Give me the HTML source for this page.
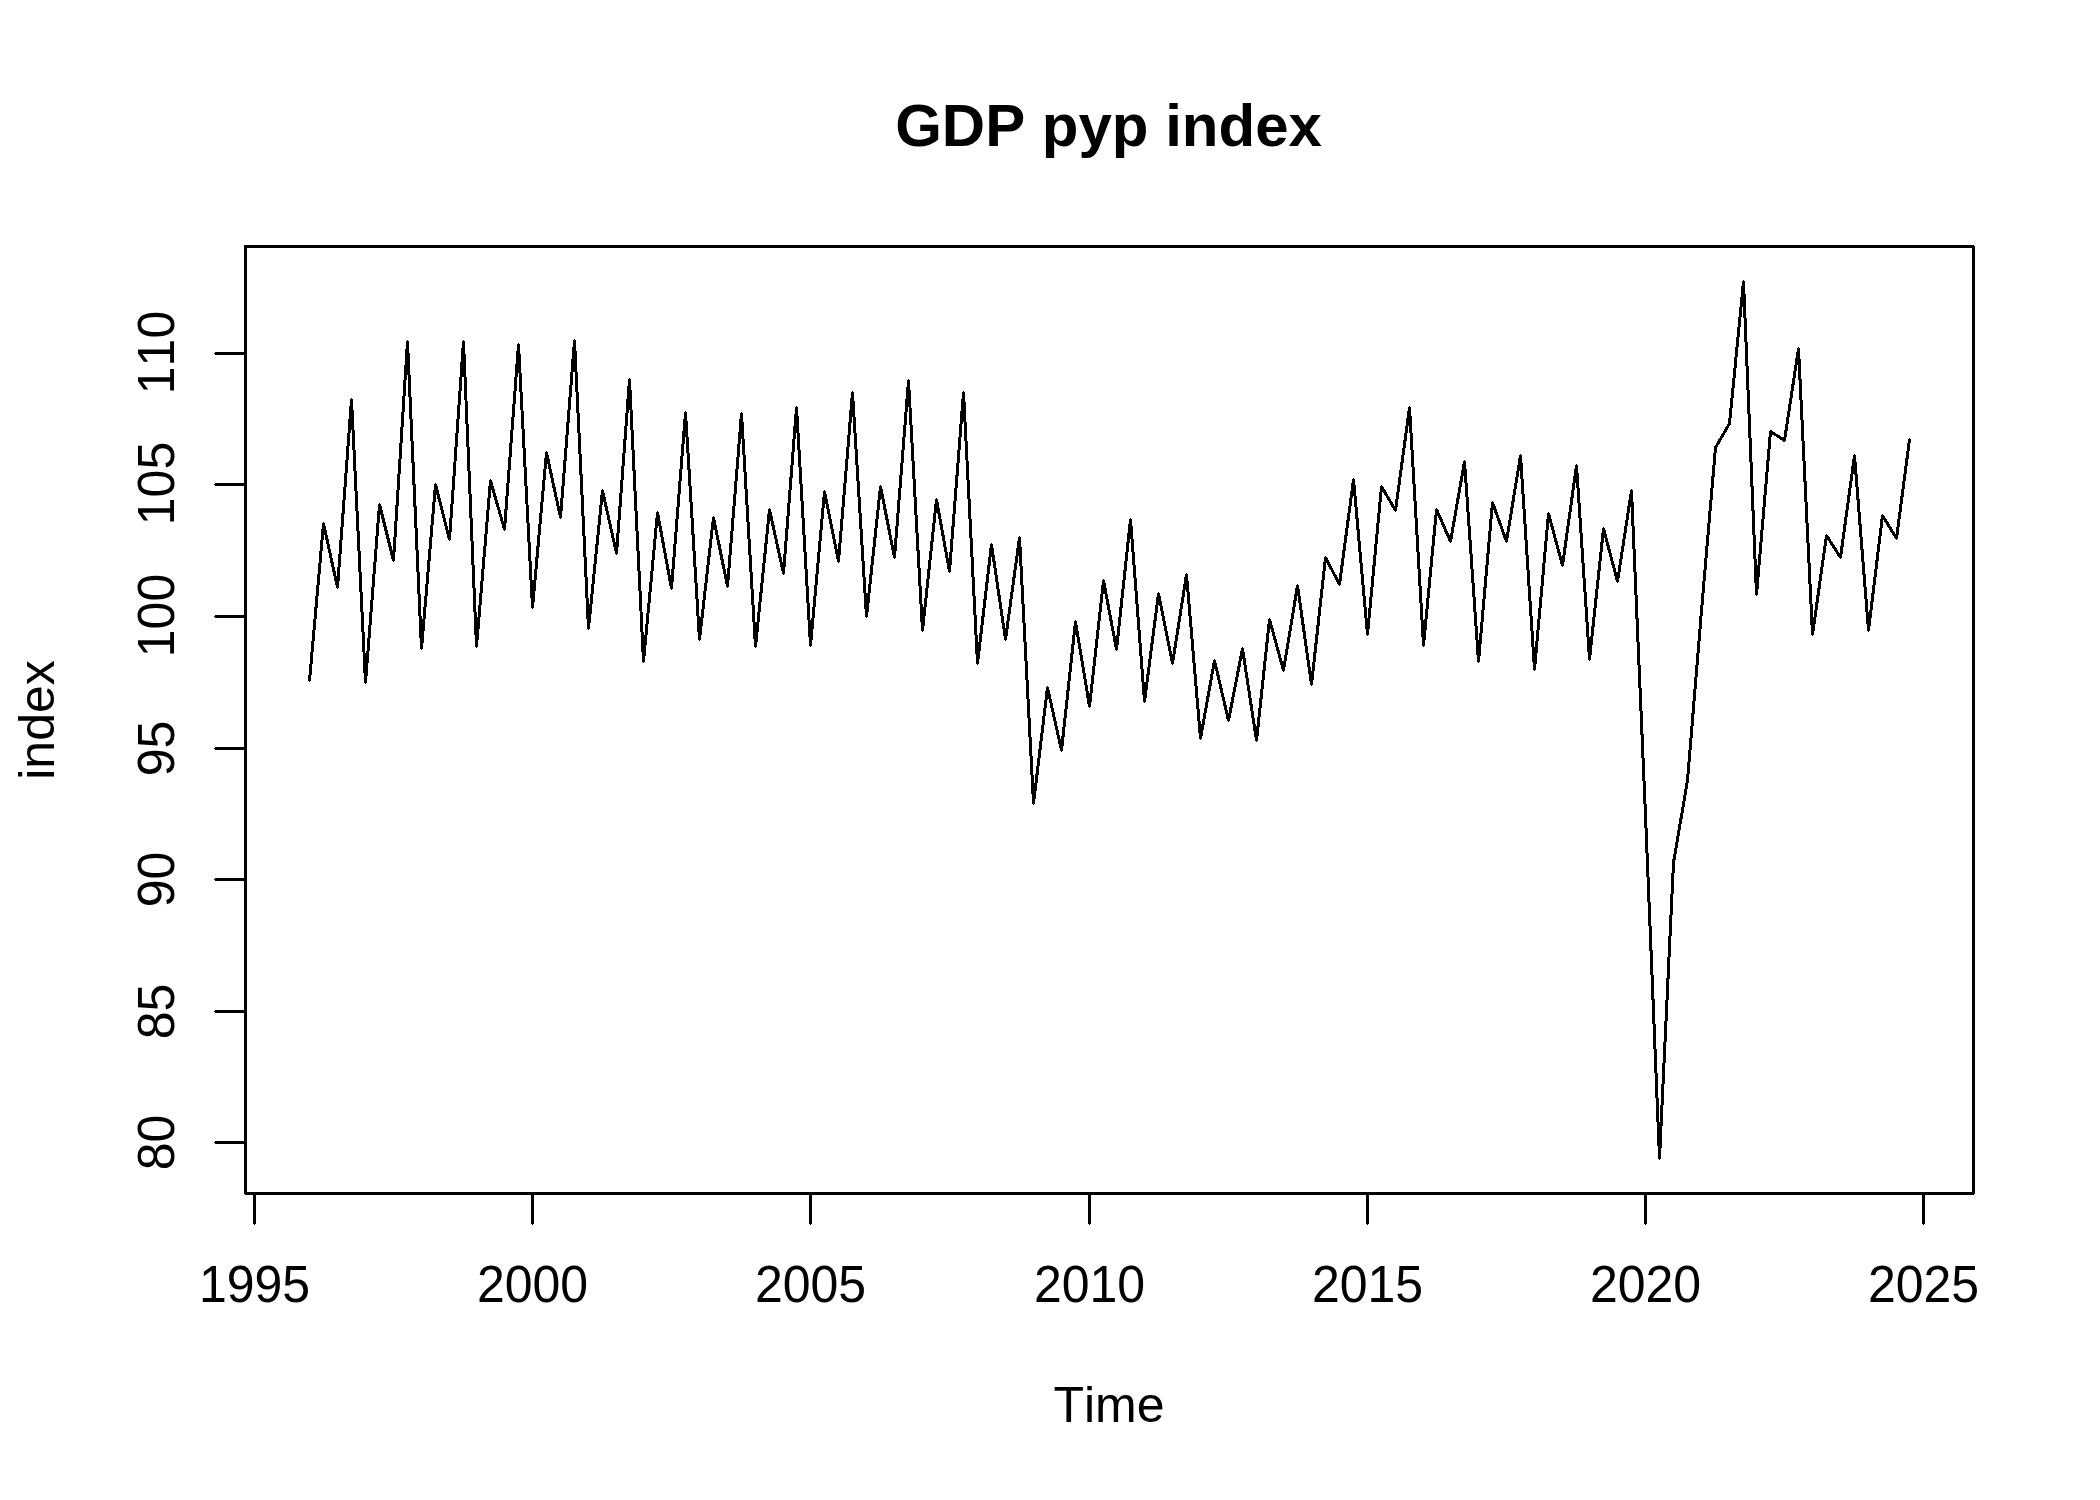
<!DOCTYPE html>
<html lang="en"><head><meta charset="utf-8"><title>GDP pyp index</title>
<style>
html,body{margin:0;padding:0;background:#fff;}
body{width:2100px;height:1500px;overflow:hidden;}
svg{display:block;}
text{font-family:'Liberation Sans', Arial, Helvetica, sans-serif;fill:#000;font-kerning:none;font-feature-settings:'kern' 0,'liga' 0;}
.ln{stroke:#000;stroke-width:3;fill:none;shape-rendering:crispEdges;}
</style></head><body>
<svg width="2100" height="1500" viewBox="0 0 2100 1500">
<rect x="0" y="0" width="2100" height="1500" fill="#fff"/>
<polyline class="ln" stroke-linejoin="bevel" stroke-linecap="butt" points="309.5,680.5 323.5,523.5 337.5,587.5 351.5,399.5 365.5,682.5 379.5,504.5 393.5,560.5 407.5,341.5 421.5,648.5 435.5,484.5 449.5,539.5 463.5,341.5 476.5,646.5 490.5,480.5 504.5,529.5 518.5,344.5 532.5,607.5 546.5,452.5 560.5,517.5 574.5,340.5 588.5,628.5 602.5,490.5 616.5,553.5 629.5,379.5 643.5,661.5 657.5,512.5 671.5,588.5 685.5,412.5 699.5,639.5 713.5,517.5 727.5,586.5 741.5,413.5 755.5,646.5 769.5,509.5 783.5,573.5 796.5,407.5 810.5,645.5 824.5,491.5 838.5,561.5 852.5,392.5 866.5,616.5 880.5,486.5 894.5,557.5 908.5,380.5 922.5,630.5 936.5,499.5 949.5,571.5 963.5,392.5 977.5,663.5 991.5,544.5 1005.5,639.5 1019.5,537.5 1033.5,803.5 1047.5,687.5 1061.5,750.5 1075.5,621.5 1089.5,706.5 1103.5,580.5 1116.5,649.5 1130.5,519.5 1144.5,701.5 1158.5,593.5 1172.5,663.5 1186.5,574.5 1200.5,738.5 1214.5,660.5 1228.5,720.5 1242.5,648.5 1256.5,740.5 1269.5,619.5 1283.5,670.5 1297.5,585.5 1311.5,684.5 1325.5,557.5 1339.5,584.5 1353.5,479.5 1367.5,634.5 1381.5,486.5 1395.5,510.5 1409.5,407.5 1423.5,645.5 1436.5,509.5 1450.5,541.5 1464.5,461.5 1478.5,661.5 1492.5,502.5 1506.5,541.5 1520.5,455.5 1534.5,669.5 1548.5,513.5 1562.5,565.5 1576.5,465.5 1589.5,659.5 1603.5,528.5 1617.5,581.5 1631.5,490.5 1645.5,815.5 1659.5,1158.5 1673.5,862.5 1687.5,780.5 1701.5,610.5 1715.5,447.5 1729.5,423.5 1743.5,281.5 1756.5,594.5 1770.5,431.5 1784.5,440.5 1798.5,348.5 1812.5,634.5 1826.5,535.5 1840.5,557.5 1854.5,455.5 1868.5,630.5 1882.5,515.5 1896.5,538.5 1909.5,439.5"/>
<path fill="#000" shape-rendering="crispEdges" d="M308 680h1v-1h1v1h1v1h-1v1h-1v-1h-1zM322 523h1v-1h1v1h1v1h-1v1h-1v-1h-1zM336 587h1v-1h1v1h1v1h-1v1h-1v-1h-1zM350 399h1v-1h1v1h1v1h-1v1h-1v-1h-1zM364 682h1v-1h1v1h1v1h-1v1h-1v-1h-1zM378 504h1v-1h1v1h1v1h-1v1h-1v-1h-1zM392 560h1v-1h1v1h1v1h-1v1h-1v-1h-1zM406 341h1v-1h1v1h1v1h-1v1h-1v-1h-1zM420 648h1v-1h1v1h1v1h-1v1h-1v-1h-1zM434 484h1v-1h1v1h1v1h-1v1h-1v-1h-1zM448 539h1v-1h1v1h1v1h-1v1h-1v-1h-1zM462 341h1v-1h1v1h1v1h-1v1h-1v-1h-1zM475 646h1v-1h1v1h1v1h-1v1h-1v-1h-1zM489 480h1v-1h1v1h1v1h-1v1h-1v-1h-1zM503 529h1v-1h1v1h1v1h-1v1h-1v-1h-1zM517 344h1v-1h1v1h1v1h-1v1h-1v-1h-1zM531 607h1v-1h1v1h1v1h-1v1h-1v-1h-1zM545 452h1v-1h1v1h1v1h-1v1h-1v-1h-1zM559 517h1v-1h1v1h1v1h-1v1h-1v-1h-1zM573 340h1v-1h1v1h1v1h-1v1h-1v-1h-1zM587 628h1v-1h1v1h1v1h-1v1h-1v-1h-1zM601 490h1v-1h1v1h1v1h-1v1h-1v-1h-1zM615 553h1v-1h1v1h1v1h-1v1h-1v-1h-1zM628 379h1v-1h1v1h1v1h-1v1h-1v-1h-1zM642 661h1v-1h1v1h1v1h-1v1h-1v-1h-1zM656 512h1v-1h1v1h1v1h-1v1h-1v-1h-1zM670 588h1v-1h1v1h1v1h-1v1h-1v-1h-1zM684 412h1v-1h1v1h1v1h-1v1h-1v-1h-1zM698 639h1v-1h1v1h1v1h-1v1h-1v-1h-1zM712 517h1v-1h1v1h1v1h-1v1h-1v-1h-1zM726 586h1v-1h1v1h1v1h-1v1h-1v-1h-1zM740 413h1v-1h1v1h1v1h-1v1h-1v-1h-1zM754 646h1v-1h1v1h1v1h-1v1h-1v-1h-1zM768 509h1v-1h1v1h1v1h-1v1h-1v-1h-1zM782 573h1v-1h1v1h1v1h-1v1h-1v-1h-1zM795 407h1v-1h1v1h1v1h-1v1h-1v-1h-1zM809 645h1v-1h1v1h1v1h-1v1h-1v-1h-1zM823 491h1v-1h1v1h1v1h-1v1h-1v-1h-1zM837 561h1v-1h1v1h1v1h-1v1h-1v-1h-1zM851 392h1v-1h1v1h1v1h-1v1h-1v-1h-1zM865 616h1v-1h1v1h1v1h-1v1h-1v-1h-1zM879 486h1v-1h1v1h1v1h-1v1h-1v-1h-1zM893 557h1v-1h1v1h1v1h-1v1h-1v-1h-1zM907 380h1v-1h1v1h1v1h-1v1h-1v-1h-1zM921 630h1v-1h1v1h1v1h-1v1h-1v-1h-1zM935 499h1v-1h1v1h1v1h-1v1h-1v-1h-1zM948 571h1v-1h1v1h1v1h-1v1h-1v-1h-1zM962 392h1v-1h1v1h1v1h-1v1h-1v-1h-1zM976 663h1v-1h1v1h1v1h-1v1h-1v-1h-1zM990 544h1v-1h1v1h1v1h-1v1h-1v-1h-1zM1004 639h1v-1h1v1h1v1h-1v1h-1v-1h-1zM1018 537h1v-1h1v1h1v1h-1v1h-1v-1h-1zM1032 803h1v-1h1v1h1v1h-1v1h-1v-1h-1zM1046 687h1v-1h1v1h1v1h-1v1h-1v-1h-1zM1060 750h1v-1h1v1h1v1h-1v1h-1v-1h-1zM1074 621h1v-1h1v1h1v1h-1v1h-1v-1h-1zM1088 706h1v-1h1v1h1v1h-1v1h-1v-1h-1zM1102 580h1v-1h1v1h1v1h-1v1h-1v-1h-1zM1115 649h1v-1h1v1h1v1h-1v1h-1v-1h-1zM1129 519h1v-1h1v1h1v1h-1v1h-1v-1h-1zM1143 701h1v-1h1v1h1v1h-1v1h-1v-1h-1zM1157 593h1v-1h1v1h1v1h-1v1h-1v-1h-1zM1171 663h1v-1h1v1h1v1h-1v1h-1v-1h-1zM1185 574h1v-1h1v1h1v1h-1v1h-1v-1h-1zM1199 738h1v-1h1v1h1v1h-1v1h-1v-1h-1zM1213 660h1v-1h1v1h1v1h-1v1h-1v-1h-1zM1227 720h1v-1h1v1h1v1h-1v1h-1v-1h-1zM1241 648h1v-1h1v1h1v1h-1v1h-1v-1h-1zM1255 740h1v-1h1v1h1v1h-1v1h-1v-1h-1zM1268 619h1v-1h1v1h1v1h-1v1h-1v-1h-1zM1282 670h1v-1h1v1h1v1h-1v1h-1v-1h-1zM1296 585h1v-1h1v1h1v1h-1v1h-1v-1h-1zM1310 684h1v-1h1v1h1v1h-1v1h-1v-1h-1zM1324 557h1v-1h1v1h1v1h-1v1h-1v-1h-1zM1338 584h1v-1h1v1h1v1h-1v1h-1v-1h-1zM1352 479h1v-1h1v1h1v1h-1v1h-1v-1h-1zM1366 634h1v-1h1v1h1v1h-1v1h-1v-1h-1zM1380 486h1v-1h1v1h1v1h-1v1h-1v-1h-1zM1394 510h1v-1h1v1h1v1h-1v1h-1v-1h-1zM1408 407h1v-1h1v1h1v1h-1v1h-1v-1h-1zM1422 645h1v-1h1v1h1v1h-1v1h-1v-1h-1zM1435 509h1v-1h1v1h1v1h-1v1h-1v-1h-1zM1449 541h1v-1h1v1h1v1h-1v1h-1v-1h-1zM1463 461h1v-1h1v1h1v1h-1v1h-1v-1h-1zM1477 661h1v-1h1v1h1v1h-1v1h-1v-1h-1zM1491 502h1v-1h1v1h1v1h-1v1h-1v-1h-1zM1505 541h1v-1h1v1h1v1h-1v1h-1v-1h-1zM1519 455h1v-1h1v1h1v1h-1v1h-1v-1h-1zM1533 669h1v-1h1v1h1v1h-1v1h-1v-1h-1zM1547 513h1v-1h1v1h1v1h-1v1h-1v-1h-1zM1561 565h1v-1h1v1h1v1h-1v1h-1v-1h-1zM1575 465h1v-1h1v1h1v1h-1v1h-1v-1h-1zM1588 659h1v-1h1v1h1v1h-1v1h-1v-1h-1zM1602 528h1v-1h1v1h1v1h-1v1h-1v-1h-1zM1616 581h1v-1h1v1h1v1h-1v1h-1v-1h-1zM1630 490h1v-1h1v1h1v1h-1v1h-1v-1h-1zM1644 815h1v-1h1v1h1v1h-1v1h-1v-1h-1zM1658 1158h1v-1h1v1h1v1h-1v1h-1v-1h-1zM1672 862h1v-1h1v1h1v1h-1v1h-1v-1h-1zM1686 780h1v-1h1v1h1v1h-1v1h-1v-1h-1zM1700 610h1v-1h1v1h1v1h-1v1h-1v-1h-1zM1714 447h1v-1h1v1h1v1h-1v1h-1v-1h-1zM1728 423h1v-1h1v1h1v1h-1v1h-1v-1h-1zM1742 281h1v-1h1v1h1v1h-1v1h-1v-1h-1zM1755 594h1v-1h1v1h1v1h-1v1h-1v-1h-1zM1769 431h1v-1h1v1h1v1h-1v1h-1v-1h-1zM1783 440h1v-1h1v1h1v1h-1v1h-1v-1h-1zM1797 348h1v-1h1v1h1v1h-1v1h-1v-1h-1zM1811 634h1v-1h1v1h1v1h-1v1h-1v-1h-1zM1825 535h1v-1h1v1h1v1h-1v1h-1v-1h-1zM1839 557h1v-1h1v1h1v1h-1v1h-1v-1h-1zM1853 455h1v-1h1v1h1v1h-1v1h-1v-1h-1zM1867 630h1v-1h1v1h1v1h-1v1h-1v-1h-1zM1881 515h1v-1h1v1h1v1h-1v1h-1v-1h-1zM1895 538h1v-1h1v1h1v1h-1v1h-1v-1h-1zM1908 439h1v-1h1v1h1v1h-1v1h-1v-1h-1z"/>
<rect class="ln" x="245.5" y="246.5" width="1728" height="947"/>
<path fill="#fff" shape-rendering="crispEdges" d="M1974 245h1v1h-1zM1974 1194h1v1h-1zM244 1194h1v1h-1z"/>

<line class="ln" x1="254.5" y1="1194" x2="254.5" y2="1224"/>
<rect x="254.0" y="1224" width="1" height="1" fill="#000" shape-rendering="crispEdges"/>
<text transform="translate(254.5,1302) scale(1,1.03)" font-size="50" text-anchor="middle">1995</text>
<line class="ln" x1="532.5" y1="1194" x2="532.5" y2="1224"/>
<rect x="532.0" y="1224" width="1" height="1" fill="#000" shape-rendering="crispEdges"/>
<text transform="translate(532.5,1302) scale(1,1.03)" font-size="50" text-anchor="middle">2000</text>
<line class="ln" x1="810.5" y1="1194" x2="810.5" y2="1224"/>
<rect x="810.0" y="1224" width="1" height="1" fill="#000" shape-rendering="crispEdges"/>
<text transform="translate(810.5,1302) scale(1,1.03)" font-size="50" text-anchor="middle">2005</text>
<line class="ln" x1="1089.5" y1="1194" x2="1089.5" y2="1224"/>
<rect x="1089.0" y="1224" width="1" height="1" fill="#000" shape-rendering="crispEdges"/>
<text transform="translate(1089.5,1302) scale(1,1.03)" font-size="50" text-anchor="middle">2010</text>
<line class="ln" x1="1367.5" y1="1194" x2="1367.5" y2="1224"/>
<rect x="1367.0" y="1224" width="1" height="1" fill="#000" shape-rendering="crispEdges"/>
<text transform="translate(1367.5,1302) scale(1,1.03)" font-size="50" text-anchor="middle">2015</text>
<line class="ln" x1="1645.5" y1="1194" x2="1645.5" y2="1224"/>
<rect x="1645.0" y="1224" width="1" height="1" fill="#000" shape-rendering="crispEdges"/>
<text transform="translate(1645.5,1302) scale(1,1.03)" font-size="50" text-anchor="middle">2020</text>
<line class="ln" x1="1923.5" y1="1194" x2="1923.5" y2="1224"/>
<rect x="1923.0" y="1224" width="1" height="1" fill="#000" shape-rendering="crispEdges"/>
<text transform="translate(1923.5,1302) scale(1,1.03)" font-size="50" text-anchor="middle">2025</text>
<line class="ln" x1="215" y1="353.5" x2="245" y2="353.5"/>
<rect x="214" y="353.0" width="1" height="1" fill="#000" shape-rendering="crispEdges"/>
<text transform="translate(174,352.5) rotate(-90) scale(1,1.03)" font-size="50" text-anchor="middle">110</text>
<line class="ln" x1="215" y1="484.5" x2="245" y2="484.5"/>
<rect x="214" y="484.0" width="1" height="1" fill="#000" shape-rendering="crispEdges"/>
<text transform="translate(174,483.5) rotate(-90) scale(1,1.03)" font-size="50" text-anchor="middle">105</text>
<line class="ln" x1="215" y1="616.5" x2="245" y2="616.5"/>
<rect x="214" y="616.0" width="1" height="1" fill="#000" shape-rendering="crispEdges"/>
<text transform="translate(174,615.5) rotate(-90) scale(1,1.03)" font-size="50" text-anchor="middle">100</text>
<line class="ln" x1="215" y1="748.5" x2="245" y2="748.5"/>
<rect x="214" y="748.0" width="1" height="1" fill="#000" shape-rendering="crispEdges"/>
<text transform="translate(174,748.5) rotate(-90) scale(1,1.03)" font-size="50" text-anchor="middle">95</text>
<line class="ln" x1="215" y1="879.5" x2="245" y2="879.5"/>
<rect x="214" y="879.0" width="1" height="1" fill="#000" shape-rendering="crispEdges"/>
<text transform="translate(174,879.5) rotate(-90) scale(1,1.03)" font-size="50" text-anchor="middle">90</text>
<line class="ln" x1="215" y1="1011.5" x2="245" y2="1011.5"/>
<rect x="214" y="1011.0" width="1" height="1" fill="#000" shape-rendering="crispEdges"/>
<text transform="translate(174,1011.5) rotate(-90) scale(1,1.03)" font-size="50" text-anchor="middle">85</text>
<line class="ln" x1="215" y1="1142.5" x2="245" y2="1142.5"/>
<rect x="214" y="1142.0" width="1" height="1" fill="#000" shape-rendering="crispEdges"/>
<text transform="translate(174,1142.5) rotate(-90) scale(1,1.03)" font-size="50" text-anchor="middle">80</text>
<text x="1108.5" y="145.5" font-size="60" font-weight="bold" text-anchor="middle">GDP pyp index</text>
<text x="1109" y="1422" font-size="50" text-anchor="middle">Time</text>
<text transform="translate(54,720) rotate(-90)" font-size="50" text-anchor="middle">index</text>
</svg></body></html>
